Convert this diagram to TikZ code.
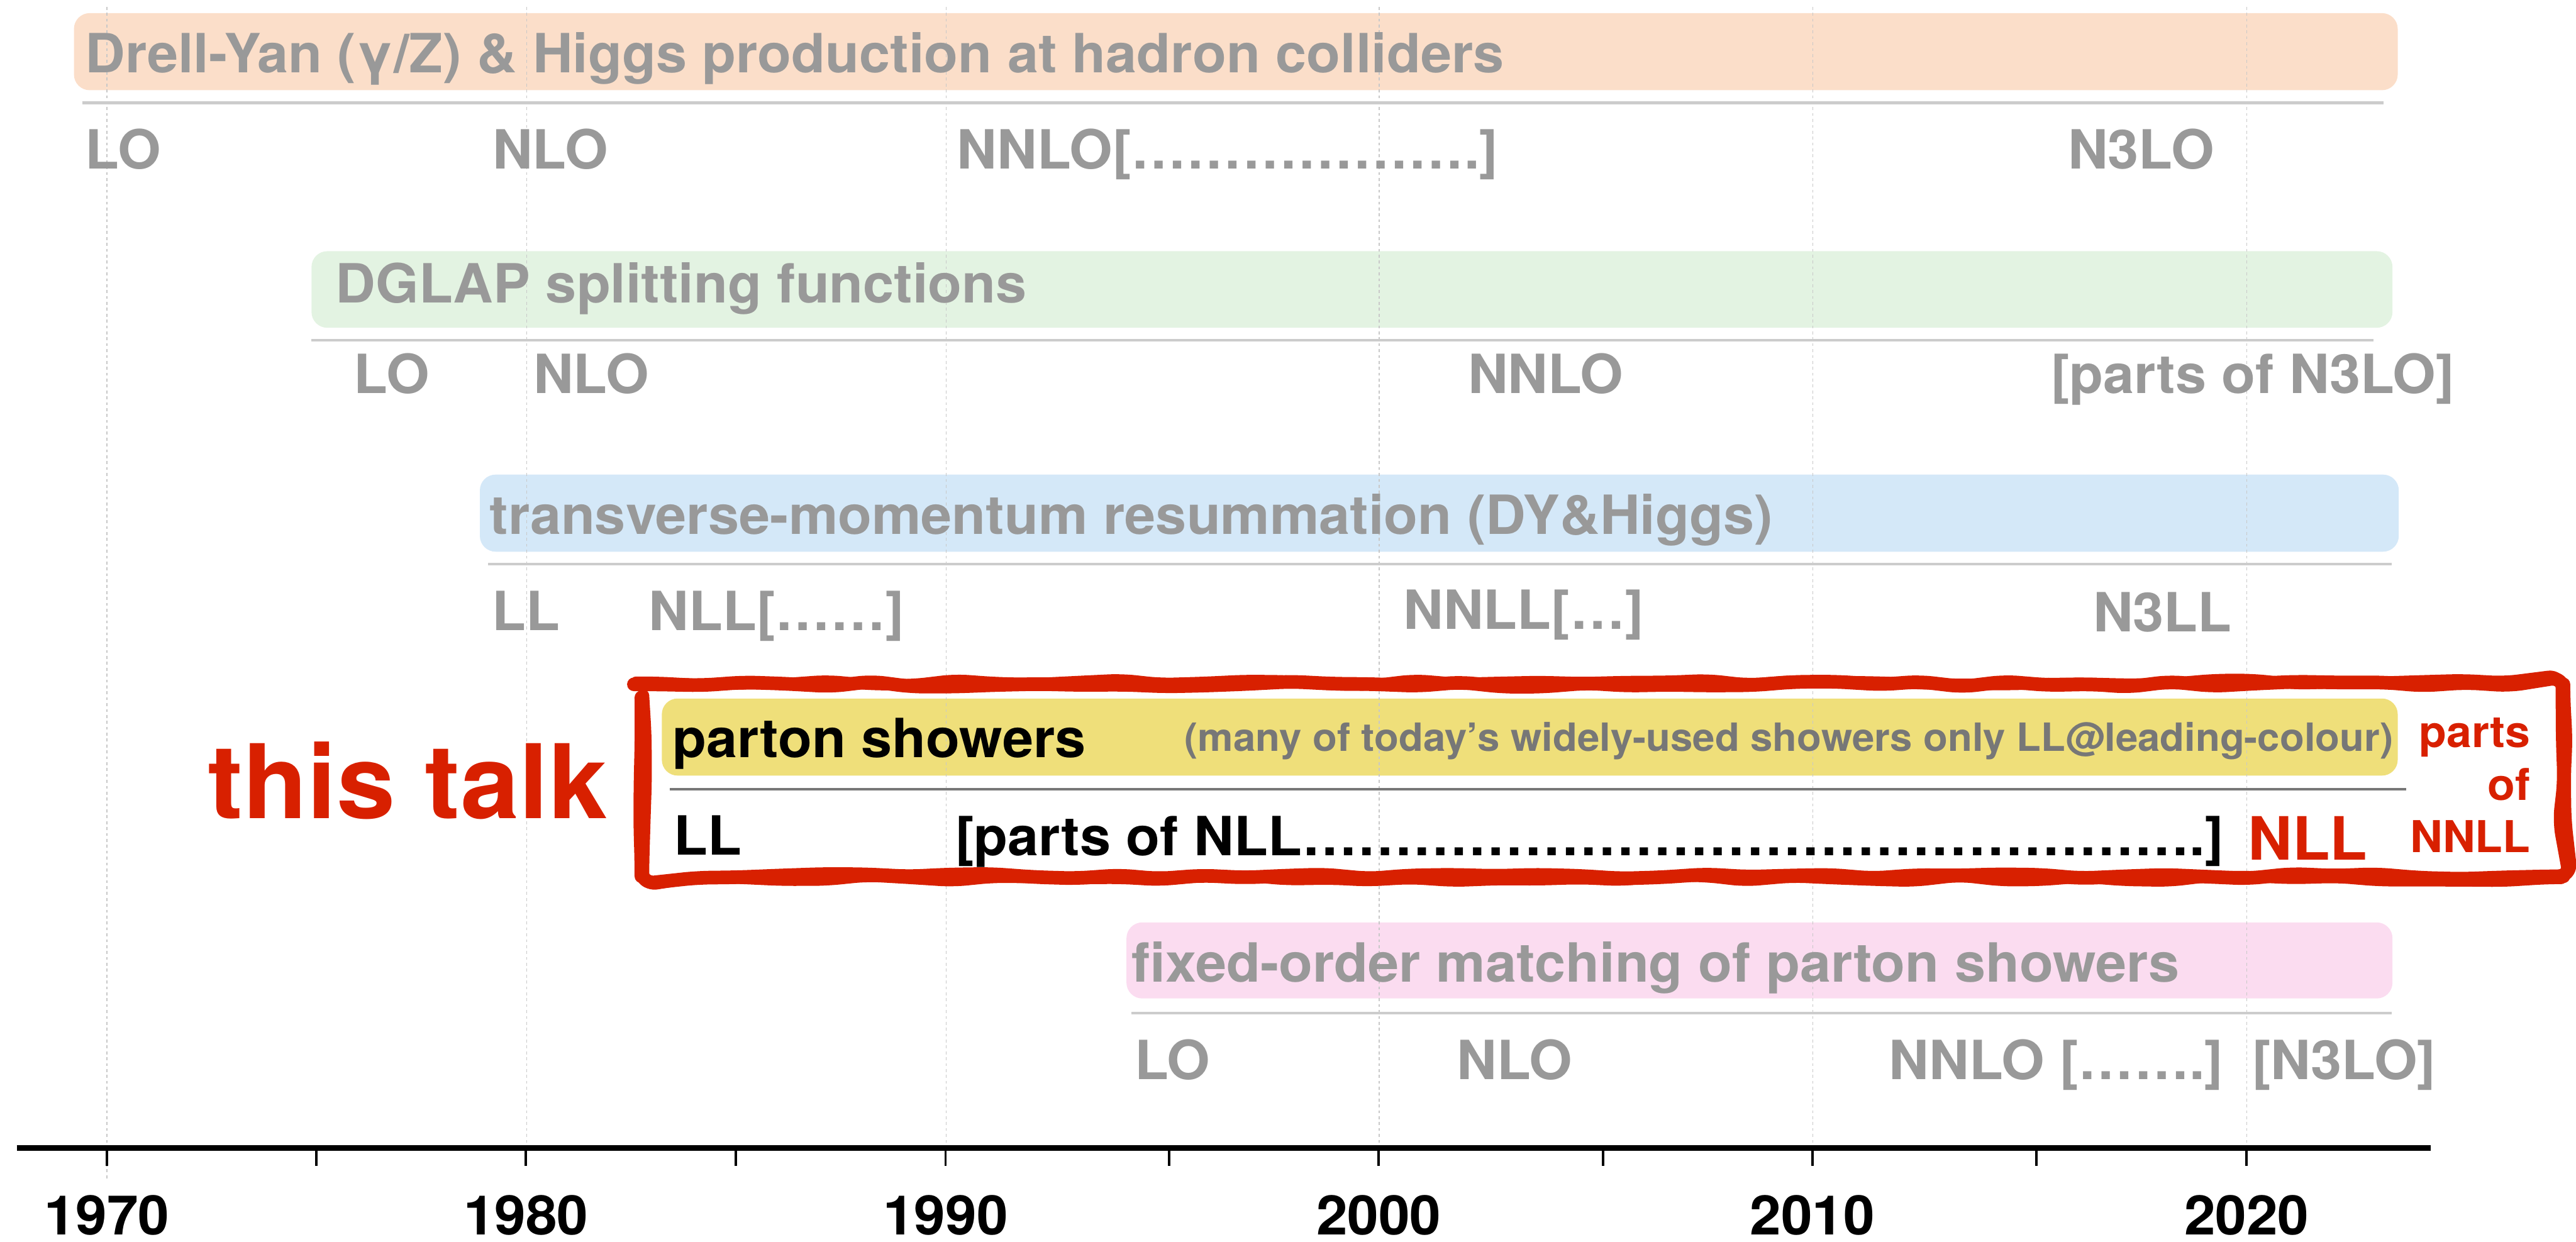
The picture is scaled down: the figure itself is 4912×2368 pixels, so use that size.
\documentclass[tikz,border=0pt]{standalone}
\usepackage{fontspec}
\setmainfont{TeX Gyre Heros}[FakeStretch=1.027]
\usetikzlibrary{decorations.pathmorphing}
\definecolor{peach}{HTML}{FBDEC9}
\definecolor{mint}{HTML}{E3F3E2}
\definecolor{sky}{HTML}{D4E8F8}
\definecolor{rose}{HTML}{FBDCF0}
\definecolor{butter}{HTML}{EFDF7A}
\definecolor{talkred}{HTML}{D82000}
\definecolor{txtgray}{HTML}{999999}
\definecolor{darkgray}{HTML}{777777}
\definecolor{rulegray}{HTML}{CCCCCC}
\definecolor{gridgray}{HTML}{C8C8C8}
\newcommand\ellfour{…………}
\tikzset{
  lbl/.style={anchor=base west, inner sep=0pt, outer sep=0pt,
    font=\fontsize{29.3}{35}\selectfont\bfseries, text=txtgray},
  blk/.style={lbl, text=black},
  note/.style={anchor=base west, inner sep=0pt, outer sep=0pt,
    font=\fontsize{21.1}{25}\selectfont\bfseries, text=darkgray},
  redbig/.style={anchor=base west, inner sep=0pt, outer sep=0pt,
    font=\fontsize{32.4}{38}\selectfont\bfseries, text=talkred},
  redsmall/.style={anchor=base east, inner sep=0pt, outer sep=0pt,
    font=\fontsize{23.8}{28}\selectfont\bfseries, text=talkred},
  talk/.style={anchor=base west, inner sep=0pt, outer sep=0pt,
    font=\fontsize{55.8}{66}\selectfont\bfseries, text=talkred},
  year/.style={anchor=base, inner sep=0pt, outer sep=0pt,
    font=\fontsize{29.6}{35}\selectfont\bfseries, text=black},
  bar/.style={rounded corners=0.3cm},
  rowrule/.style={draw=rulegray, line width=1.45pt},
  gridline/.style={draw=gridgray, line width=0.45pt, dash pattern=on 1.6pt off 1.6pt},
  axisline/.style={draw=black, line width=3.1pt},
  tickline/.style={draw=black, line width=1.3pt},
  marker/.style={draw=talkred, line width=7.4pt, line join=round, line cap=round,
    decorate, decoration={random steps, segment length=0.8cm, amplitude=0.055cm},
    rounded corners=0.25cm},
}
\begin{document}
\begin{tikzpicture}[x=0.01cm, y=-0.01cm]
\useasboundingbox (0,0) rectangle (4912,2368);

% bars
\fill[peach, bar] (141,25) rectangle (4572,172);
\fill[mint, bar] (594,479) rectangle (4562,625);
\fill[sky, bar] (915,905) rectangle (4574,1052);
\fill[butter, bar] (1262,1332) rectangle (4572,1479);
\fill[rose, bar] (2148,1759) rectangle (4562,1904);

% grid lines
\draw[gridline] (204,13) -- (204,2247);
\foreach \gx in {1004,1804,2630,3457,4284} \draw[gridline] (\gx,13) -- (\gx,2189);

% row rules
\draw[rowrule] (157,196) -- (4545,196);
\draw[rowrule] (594,649) -- (4526,649);
\draw[rowrule] (931,1076) -- (4560,1076);
\draw[draw=darkgray, line width=1.45pt] (1277,1505) -- (4588,1505);
\draw[rowrule] (2157,1932) -- (4561,1932);

% row 1
\node[lbl] (t1) at (163,138) {Drell-Yan (γ/Z) \& Higgs production at hadron colliders};
\node[lbl] (r1a) at (163,322) {LO};
\node[lbl] (r1b) at (939,322) {NLO};
\node[lbl] (r1c) at (1825,322) {NNLO[……………….]};
\node[lbl] (r1d) at (3943,322) {N3LO};

% row 2
\node[lbl] (t2) at (640,577) {DGLAP splitting functions};
\node[lbl] (r2a) at (675,750) {LO};
\node[lbl] (r2b) at (1017,750) {NLO};
\node[lbl] (r2c) at (2799,750) {NNLO};
\node[lbl] (r2d) at (3911,750) {[parts of N3LO]};

% row 3
\node[lbl] (t3) at (934,1019) {transverse-momentum resummation (DY\&Higgs)};
\node[lbl] (r3a) at (938,1202) {LL};
\node[lbl] (r3b) at (1237,1202) {NLL[……]};
\node[lbl] (r3c) at (2676,1200) {NNLL[…]};
\node[lbl] (r3d) at (3991,1204) {N3LL};

% row 4 (this talk)
\node[blk] (t4) at (1283,1445) {parton showers};
\node[note] (t4n) at (2259,1433) {(many of today’s widely-used showers only LL@leading-colour)};
\node[blk] (r4a) at (1285,1630) {LL};
\node[blk] (r4b) at (1822,1631) {[parts of NLL\ellfour\ellfour\ellfour\ellfour.]};
\node[redbig] (r4c) at (4287,1640) {NLL};
\node[redsmall] (r4d) at (4825,1425) {parts};
\node[redsmall] (r4e) at (4825,1526) {of};
\node[redsmall] (r4f) at (4825,1626) {NNLL};
\node[talk] (talk) at (396,1561) {this talk};

% row 5
\node[lbl] (t5) at (2158,1872) {fixed-order matching of parton showers};
\node[lbl] (r5a) at (2164,2058) {LO};
\node[lbl] (r5b) at (2778,2058) {NLO};
\node[lbl] (r5c) at (3602,2058) {NNLO […….]};
\node[lbl] (r5d) at (4295,2058) {[N3LO]};

% red hand-drawn frame
\pgfmathsetseed{11}
\draw[marker] (1223,1305) rectangle (4888,1671);
\pgfmathsetseed{29}
\draw[marker, line width=6.2pt] (1227,1301) rectangle (4884,1675);

% axis
\draw[axisline] (32,2189) -- (4635,2189);
\foreach \tx in {204,603,1003,1403,1803,2229,2629,3057,3456,3883,4284}
  \draw[tickline] (\tx,2194) -- (\tx,2223);
\node[year] (y1970) at (204,2355) {1970};
\node[year] (y1980) at (1003,2355) {1980};
\node[year] (y1990) at (1803,2355) {1990};
\node[year] (y2000) at (2629,2355) {2000};
\node[year] (y2010) at (3456,2355) {2010};
\node[year] (y2020) at (4284,2355) {2020};
\end{tikzpicture}
\end{document}
